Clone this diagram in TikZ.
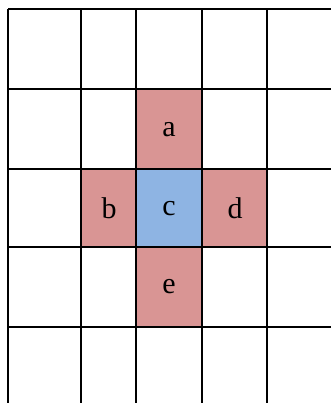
\documentclass[tikz,border=0pt]{standalone}
\usepackage{fontspec}
\setmainfont{Liberation Serif}
\definecolor{pinkc}{HTML}{D99594}
\definecolor{bluec}{HTML}{8EB4E3}
\begin{document}
\begin{tikzpicture}[x=1pt,y=-1pt,
  gridline/.style={black,line width=1.6pt},
  celllabel/.style={font=\fontsize{30}{34}\selectfont,inner sep=0pt}]
\useasboundingbox (0,0) rectangle (331,403);
\fill[white] (0,0) rectangle (331,403);
% coloured cells
\fill[pinkc] (136,89) rectangle (202,169);
\fill[pinkc] (81,169) rectangle (136,247);
\fill[bluec] (136,169) rectangle (202,247);
\fill[pinkc] (202,169) rectangle (267,247);
\fill[pinkc] (136,247) rectangle (202,327);
% labels
\node[celllabel] (a) at (169,130) {a};
\node[celllabel] (b) at (109,208) {b};
\node[celllabel] (c) at (169,209) {c};
\node[celllabel] (d) at (235,208) {d};
\node[celllabel] (e) at (169,287) {e};
% grid lines
\foreach \x in {8,81,136,202,267}
  \draw[gridline] (\x,9) -- (\x,403);
\foreach \y in {9,89,169,247,327}
  \draw[gridline] (8,\y) -- (331,\y);
\end{tikzpicture}
\end{document}
